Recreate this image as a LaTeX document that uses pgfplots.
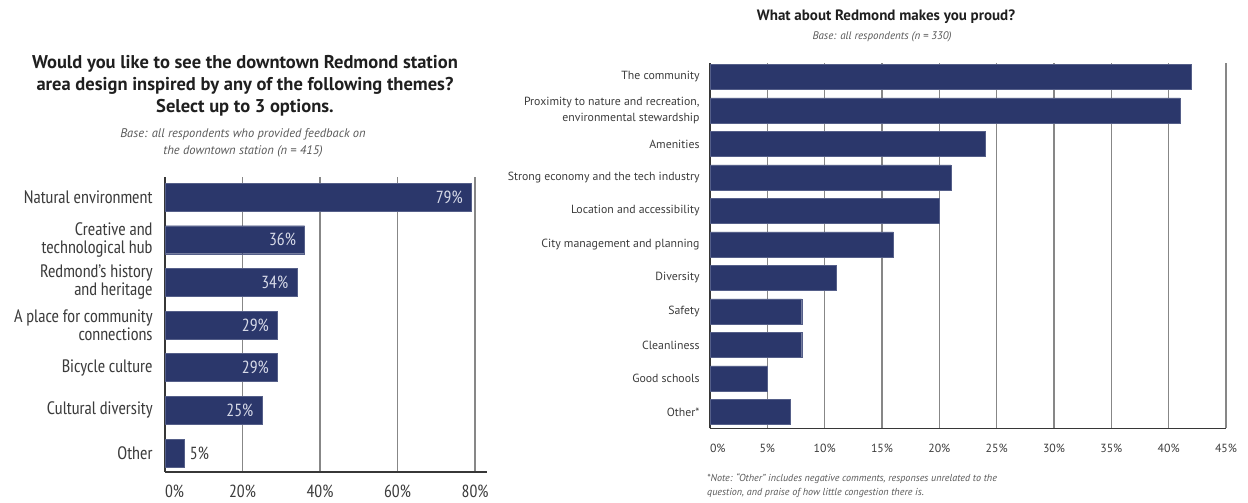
\documentclass[border=0pt]{standalone}
\usepackage{fontspec}
\setmainfont{PT Sans Narrow}
\newfontfamily\wide{PT Sans}
\usepackage{pgfplots}
\pgfplotsset{compat=1.18}
\definecolor{barblue}{RGB}{43,55,107}
\definecolor{lbl}{RGB}{60,60,60}
\definecolor{gridc}{RGB}{135,135,135}
\definecolor{axc}{RGB}{55,55,55}
\definecolor{inlbl}{RGB}{215,218,232}
\begin{document}
\begin{tikzpicture}
\path[use as bounding box] (0pt,0pt) rectangle (1248pt,503pt);
% ---------------- Left chart ----------------
\node[align=center, text=black!88, font=\wide\fontsize{18.5}{22}\selectfont\bfseries] at (245pt,{503pt-86pt})
  {Would you like to see the downtown Redmond station\\area design inspired by any of the following themes?\\Select up to 3 options.};
\node[align=center, text=black!65, font=\wide\fontsize{12.5}{17}\selectfont\itshape] at (243pt,{503pt-142.5pt})
  {Base: all respondents who provided feedback on\\the downtown station (n = 415)};
\begin{axis}[
  at={(165pt,326pt)}, anchor=north west,
  scale only axis, width=321.7pt, height=295pt,
  xbar, bar width=28pt, bar shift=0pt,
  xmin=0, xmax=83, ymin=-0.445, ymax=6.47,
  /pgf/number format/assume math mode=true,
  axis lines*=left,
  axis line style={draw=axc, line width=1.5pt},
  xmajorgrids, grid style={draw=gridc, line width=1.3pt},
  tick style={draw=none},
  xtick={0,20,40,60,80},
  xticklabels={\makebox[0pt][l]{0\%},20\%,40\%,60\%,80\%},
  ytick={0,1,2,3,4,5,6},
  yticklabels={Other,Cultural diversity,Bicycle culture,{A place for community\\connections},{Redmond’s history\\and heritage},{Creative and\\technological hub},Natural environment},
  yticklabel style={align=right, anchor=east, inner sep=0pt, xshift=-8pt, text=lbl, font=\fontsize{18}{17.7}\selectfont},
  xticklabel style={anchor=base, inner sep=0pt, yshift=-26pt, text=lbl, font=\fontsize{17.5}{20}\selectfont},
]
\addplot[fill=barblue, draw=barblue!80!white,
  nodes near coords={\pgfmathprintnumber{\pgfplotspointmeta}\%},
  every node near coord/.append style={anchor=east, xshift=-5pt, text=inlbl, font=\fontsize{17.5}{20}\selectfont}]
  coordinates {(25,1) (29,2) (29,3) (34,4) (36,5) (79,6)};
\addplot[fill=barblue, draw=barblue!80!white,
  nodes near coords={\pgfmathprintnumber{\pgfplotspointmeta}\%},
  every node near coord/.append style={anchor=west, xshift=2pt, text=lbl, font=\fontsize{17.5}{20}\selectfont}]
  coordinates {(5,0)};
\end{axis}
% ---------------- Right chart ----------------
\node[text=black!88, font=\wide\fontsize{15}{17}\selectfont\bfseries] at (886pt,{503pt-17pt})
  {What about Redmond makes you proud?};
\node[text=black!65, font=\wide\fontsize{11}{13}\selectfont\itshape] at (882pt,{503pt-37pt})
  {Base: all respondents (n = 330)};
\begin{axis}[
  at={(710pt,440pt)}, anchor=north west,
  scale only axis, width=516pt, height=365.3pt,
  xbar, bar width=25pt, bar shift=0pt,
  xmin=0, xmax=45, ymin=-0.487, ymax=10.418,
  axis lines*=left,
  axis line style={draw=axc, line width=1.5pt},
  xmajorgrids, grid style={draw=gridc, line width=1.2pt},
  tick style={draw=none},
  xtick={0,5,10,15,20,25,30,35,40,45},
  xticklabels={\makebox[0pt][l]{0\%},5\%,10\%,15\%,20\%,25\%,30\%,35\%,40\%,45\%},
  ytick={0,1,2,3,4,5,6,7,8,9,10},
  yticklabels={Other*,Good schools,Cleanliness,Safety,Diversity,City management and planning,Location and accessibility,Strong economy and the tech industry,Amenities,{Proximity to nature and recreation,\\environmental stewardship},The community},
  yticklabel style={align=right, anchor=east, inner sep=0pt, xshift=-6pt, text=lbl, font=\wide\fontsize{11.8}{15.5}\selectfont},
  xticklabel style={anchor=base, inner sep=0pt, yshift=-24pt, text=lbl, font=\wide\fontsize{11.8}{15}\selectfont},
]
\addplot[fill=barblue, draw=barblue!80!white]
  coordinates {(7,0) (5,1) (8,2) (8,3) (11,4) (16,5) (20,6) (21,7) (24,8) (41,9) (42,10)};
\end{axis}
\node[anchor=west, align=left, inner sep=0pt, text=black!65, font=\wide\fontsize{10.1}{14}\selectfont\itshape] at (707pt,{503pt-486pt})
  {*Note: “Other” includes negative comments, responses unrelated to the\\question, and praise of how little congestion there is.};
\end{tikzpicture}
\end{document}
